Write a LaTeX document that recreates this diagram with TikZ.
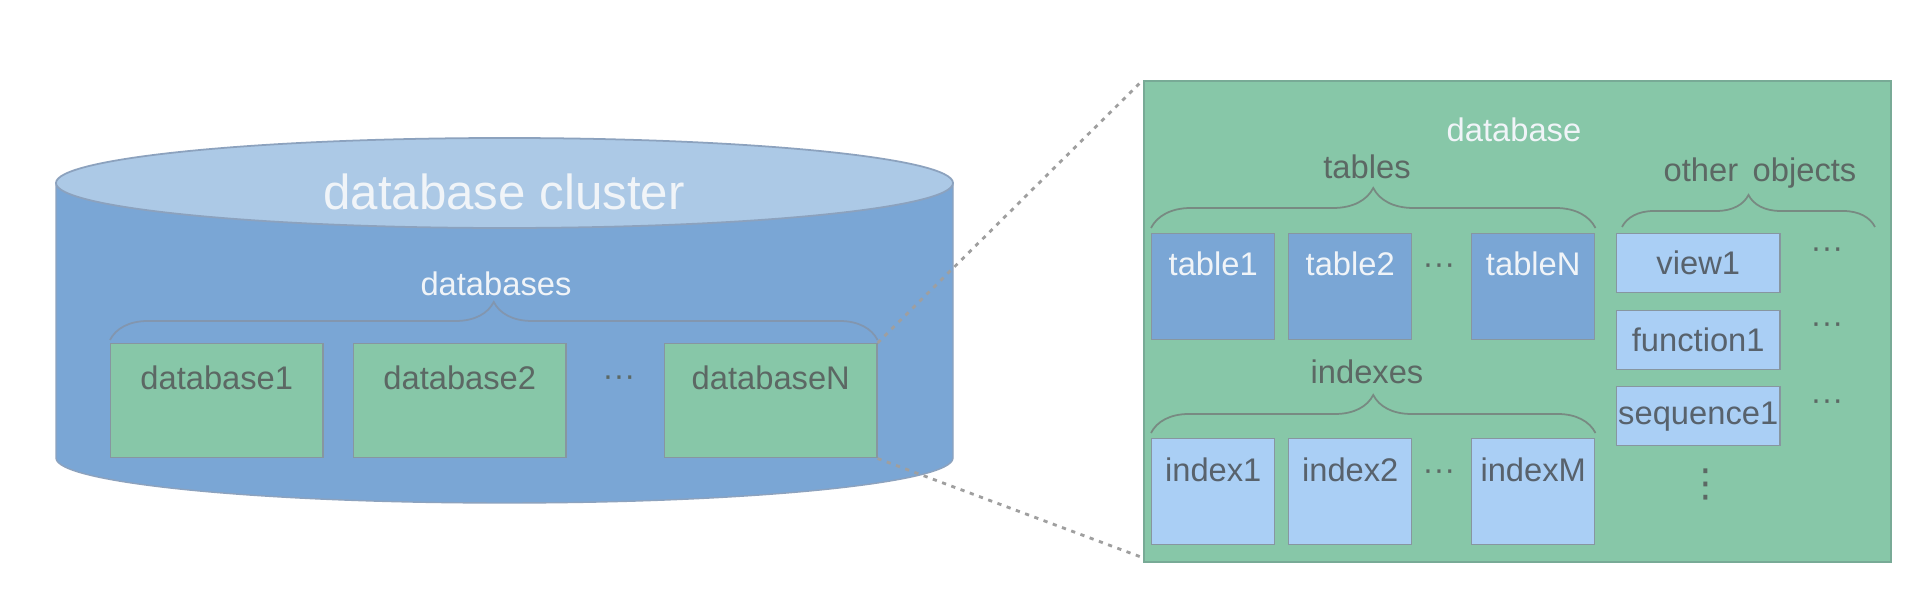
\documentclass[tikz,border=0pt]{standalone}
\usepackage{fontspec}
\setmainfont{Liberation Sans}
\newfontfamily\dejavu{DejaVu Sans}
\usetikzlibrary{calc,decorations.pathreplacing}
\definecolor{cylbody}{RGB}{122,166,213}
\definecolor{cyltop}{RGB}{172,201,230}
\definecolor{cylline}{RGB}{140,162,190}
\definecolor{dbgreen}{RGB}{135,199,168}
\definecolor{greenline}{RGB}{120,170,150}
\definecolor{lightblue}{RGB}{170,207,245}
\definecolor{boxline}{RGB}{135,150,160}
\definecolor{darktext}{RGB}{92,104,100}
\definecolor{bluetext}{RGB}{88,98,108}
\definecolor{whitetext}{RGB}{240,244,248}
\definecolor{bracecol}{RGB}{120,138,130}
\definecolor{bracecolb}{RGB}{130,150,175}
\tikzset{
  sm/.style={font=\fontsize{9.3}{11}\selectfont},
  bx/.style={rectangle, draw=boxline, line width=0.4pt, inner sep=0pt, anchor=north west},
  dbbox/.style={bx, fill=dbgreen, minimum width=2.12cm, minimum height=1.14cm},
  tblbox/.style={bx, fill=cylbody, minimum width=1.23cm, minimum height=1.06cm},
  idxbox/.style={bx, fill=lightblue, minimum width=1.23cm, minimum height=1.06cm},
  objbox/.style={bx, fill=lightblue, minimum width=1.63cm, minimum height=0.59cm, sm, text=bluetext},
  bracegreen/.style={draw=bracecol, line width=0.5pt, decorate, decoration={brace, amplitude=#1}},
  braceblue/.style={draw=bracecolb, line width=0.5pt, decorate, decoration={brace, amplitude=#1}},
  zoomline/.style={draw=gray!75, line width=0.8pt, dash pattern=on 1.2pt off 1.6pt},
  dotsnode/.style={sm, inner sep=0pt},
}
\begin{document}
\begin{tikzpicture}[x=0.01cm, y=-0.01cm]
\useasboundingbox (0,0) rectangle (1920,598);
\fill[white] (0,0) rectangle (1920,598);

% cylinder
\filldraw[fill=cylbody, draw=cylline, line width=0.4pt]
  (56,183) -- (56,458) arc[start angle=180, end angle=360, x radius=448.5, y radius=-45] -- (953,183) -- cycle;
\filldraw[fill=cyltop, draw=cylline, line width=0.5pt] (504.5,183) ellipse[x radius=448.5, y radius=45];
\node[font=\fontsize{14}{16}\selectfont, text=whitetext] (cluster) at (504,192) {database cluster};

% databases
\node[sm, text=whitetext] (dbs) at (496,284) {databases};
\node[dbbox] (db1) at (110,343) {};
\node[dbbox] (db2) at (353,343) {};
\node[dbbox] (dbN) at (664,343) {};
\node[sm, text=darktext] (db1t) at ($(db1.north)+(0,35)$) {database1};
\node[sm, text=darktext] (db2t) at ($(db2.north)+(0,35)$) {database2};
\node[sm, text=darktext] (dbNt) at ($(dbN.north)+(0,35)$) {databaseN};
\node[dotsnode, text=darktext] (dbdots) at (619,381) {\textperiodcentered\textperiodcentered\textperiodcentered};
\draw[braceblue=0.38cm] ($(db1.north west)+(0,-3)$) -- ($(dbN.north east)+(0,-3)$);

% panel
\node[rectangle, fill=dbgreen, draw=greenline, line width=0.5pt, anchor=north west,
      minimum width=7.47cm, minimum height=4.81cm, inner sep=0pt] (panel) at (1143,80) {};

% zoom lines
\draw[zoomline] (dbN.north east) -- (panel.north west);
\draw[zoomline] (dbN.south east) -- ($(panel.south west)+(-2,-6)$);

\node[sm, text=whitetext] (dbtitle) at (1514,130) {database};

% tables
\node[sm, text=darktext] (tables) at (1367,167) {tables};
\node[tblbox] (t1) at (1151,233) {};
\node[tblbox] (t2) at (1288,233) {};
\node[tblbox] (tN) at (1471,233) {};
\node[sm, text=whitetext] (t1t) at ($(t1.north)+(0,31)$) {table1};
\node[sm, text=whitetext] (t2t) at ($(t2.north)+(0,31)$) {table2};
\node[sm, text=whitetext] (tNt) at ($(tN.north)+(0,31)$) {tableN};
\node[dotsnode, text=darktext] (tdots) at (1439,269) {\textperiodcentered\textperiodcentered\textperiodcentered};
\draw[bracegreen=0.40cm] ($(t1.north west)+(0,-5)$) -- ($(tN.north east)+(0,-5)$);

% indexes
\node[sm, text=darktext] (indexes) at (1367,372) {indexes};
\node[idxbox] (i1) at (1151,438) {};
\node[idxbox] (i2) at (1288,438) {};
\node[idxbox] (iM) at (1471,438) {};
\node[sm, text=bluetext] (i1t) at ($(i1.north)+(0,32)$) {index1};
\node[sm, text=bluetext] (i2t) at ($(i2.north)+(0,32)$) {index2};
\node[sm, text=bluetext] (iMt) at ($(iM.north)+(0,32)$) {indexM};
\node[dotsnode, text=darktext] (idots) at (1439,475) {\textperiodcentered\textperiodcentered\textperiodcentered};
\draw[bracegreen=0.38cm] ($(i1.north west)+(0,-5)$) -- ($(iM.north east)+(0,-5)$);

% other objects
\node[sm, text=darktext] (other) at (1760,173) {other\, objects};
\node[objbox] (v1) at (1616,233) {view1};
\node[objbox] (f1) at (1616,310) {function1};
\node[objbox] (s1) at (1616,386) {sequence1};
\coordinate (obR) at (1875,227);
\draw[bracegreen=0.32cm] ($(v1.north west)+(6,-6)$) -- (obR);
\node[dotsnode, text=darktext] (vdots) at (1827,253) {\textperiodcentered\textperiodcentered\textperiodcentered};
\node[dotsnode, text=darktext] (fdots) at (1827,328) {\textperiodcentered\textperiodcentered\textperiodcentered};
\node[dotsnode, text=darktext] (sdots) at (1827,405) {\textperiodcentered\textperiodcentered\textperiodcentered};
\node[text=darktext, font=\dejavu\fontsize{11}{12}\selectfont, inner sep=0pt] (vdots2) at (1706,484) {⋮};
\end{tikzpicture}
\end{document}
